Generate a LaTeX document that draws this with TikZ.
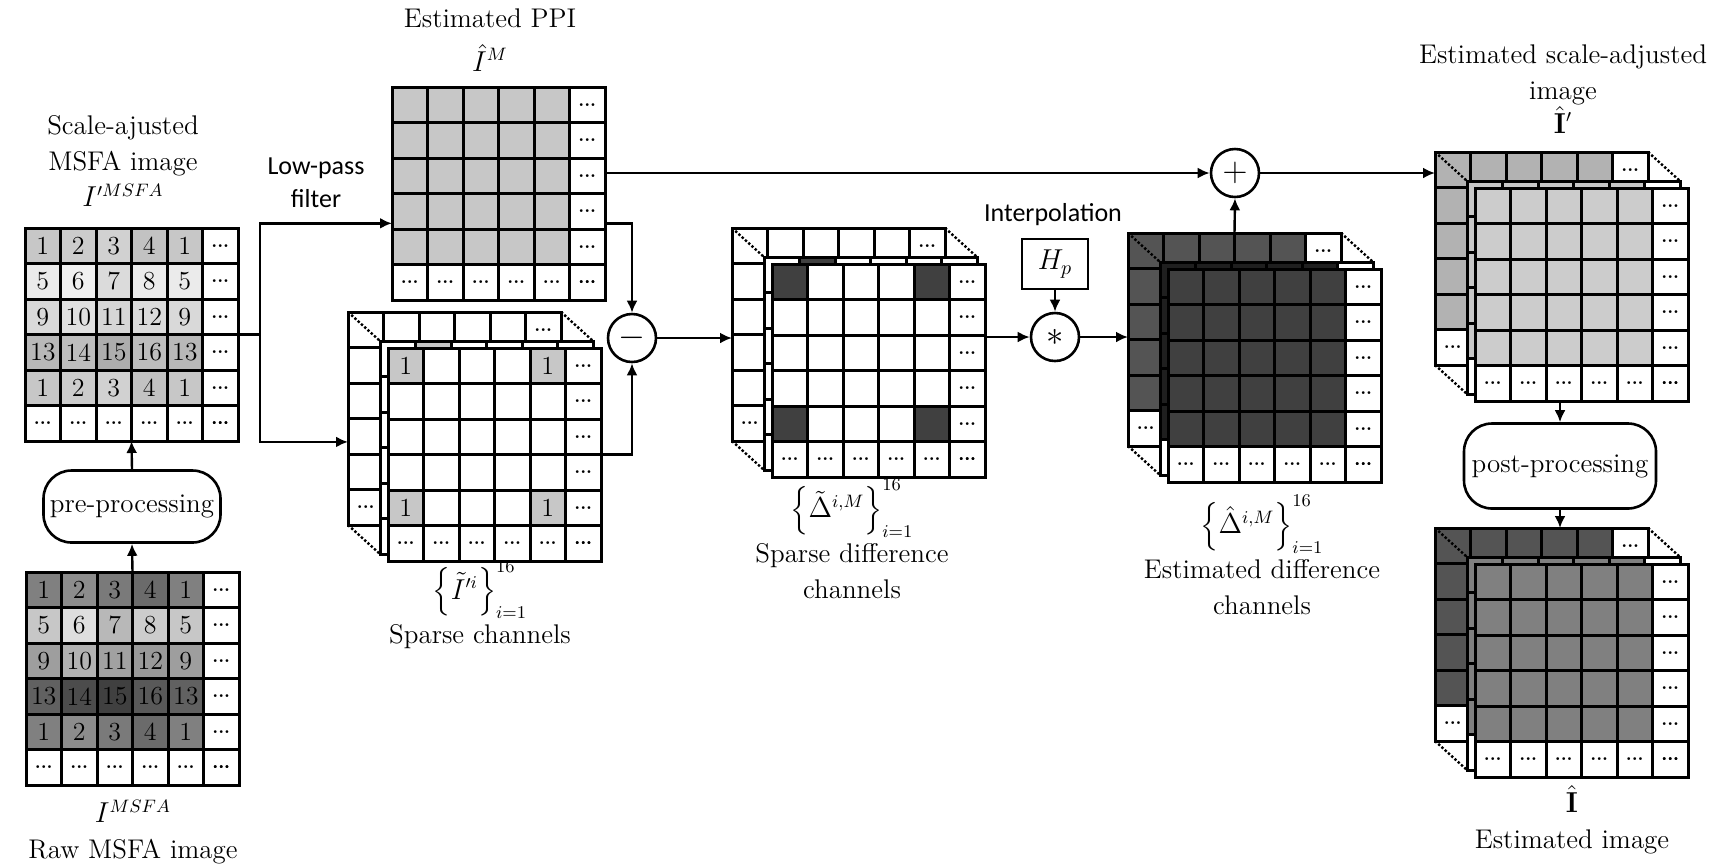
\documentclass[tikz,border=0pt]{standalone}
\usepackage{amsmath,amssymb}
\usepackage[no-math]{fontspec}
\newfontfamily\calibri{Carlito}
\usepackage{tikz}
\usetikzlibrary{arrows.meta,positioning,calc}

\newcommand{\cw}{35.5}
\newcommand{\dotstxt}{{\fontsize{9}{9}\selectfont\textbf{...}}}
% one cell: row #1, column #2, fill #3
\newcommand{\shadecell}[3]{%
  \draw[cell,fill=#3] (#2*\cw,#1*\cw) rectangle ++(\cw,\cw);}
% the same with a text #4
\newcommand{\markcell}[4]{%
  \shadecell{#1}{#2}{#3}
  \node[numtxt] at (#2*\cw+0.5*\cw,#1*\cw+0.5*\cw) {#4};}
\newcommand{\dotcell}[2]{%
  \node[numtxt] at (#2*\cw+0.5*\cw,#1*\cw+0.5*\cw) {\dotstxt};}
\newcommand{\alldots}{\foreach \k in {0,...,5}{\dotcell{\k}{5}\dotcell{5}{\k}}}
% 6x6 grid, last row and column left white
\newcommand{\cellgrid}[3]{%
  \begin{scope}[shift={#1}]
    \foreach \row in {0,...,4}
      \foreach \col in {0,...,4}{\shadecell{\row}{\col}{#2}}
    \foreach \k in {0,...,5}{
      \shadecell{\k}{5}{white}
      \shadecell{5}{\k}{white}}
    #3
  \end{scope}}
% mosaic with band numbers 1..16, #2 = shades of the bands
\newcommand{\msfagrid}[2]{%
  \cellgrid{#1}{white}{%
    \foreach \row in {0,...,4}
      \foreach \col in {0,...,4}{
        \pgfmathtruncatemacro\band{4*mod(\row,4)+mod(\col,4)+1}
        \pgfmathtruncatemacro\shade{{#2}[\band-1]}
        \markcell{\row}{\col}{black!\shade}{\band}}
    \alldots}}
% three stacked channels: back, middle, front
\newcommand{\cellstack}[7]{%
  \begin{scope}[shift={#2}]
    \cellgrid{(0,0)}{#3}{\dotcell{0}{5}\dotcell{5}{0}}
    \draw[dotlink] (0,0) -- (32,29) (6*\cw,0) -- ++(32,29) (0,6*\cw) -- ++(32,29);
    \cellgrid{(32,29)}{#4}{#6}
    \cellgrid{(40,36)}{#5}{#7\alldots}
    \node[gridframe] (#1b) at (0,0) {};
    \node[gridframe] (#1) at (40,36) {};
  \end{scope}}

\begin{document}
\begin{tikzpicture}[x=0.5pt,y=-0.5pt,
  cell/.style={draw,line width=1.5pt},
  numtxt/.style={font=\fontsize{13}{13}\selectfont,inner sep=0},
  gridframe/.style={inner sep=0,outer sep=0,minimum width=106.5pt,minimum height=106.5pt,anchor=north west},
  dotlink/.style={densely dotted,line width=1.2pt},
  lbl/.style={align=center,font=\fontsize{13.5}{18}\selectfont,inner sep=1pt},
  sans/.style={align=center,font=\calibri\fontsize{13}{16.5}\selectfont,inner sep=1pt},
  op/.style={draw,circle,line width=1.3pt,minimum size=24pt,inner sep=0,font=\fontsize{16}{16}\selectfont},
  procbox/.style={draw,line width=1.3pt,rounded corners=14pt,inner xsep=1pt,font=\fontsize{13.5}{14}\selectfont},
  arr/.style={-{Latex[length=6pt,width=5.5pt]},line width=1.2pt},
  wire/.style={line width=1.2pt}]
\useasboundingbox (0,0) rectangle (1713,864);

% input mosaics
\msfagrid{(25,228)}{22,20,18,24,8,6,14,8,15,12,16,14,28,26,32,26}
\node[gridframe] (msfa) at (25,228) {};
\msfagrid{(26,572)}{50,45,52,58,22,13,28,20,38,30,37,40,62,70,75,65}
\node[gridframe] (raw) at (26,572) {};
\node[procbox,minimum width=88.5pt,minimum height=36pt] (pre) at ($(msfa.south)!0.5!(raw.north)$) {pre-processing};

% PPI and channel stacks
\cellgrid{(392,87)}{black!22}{\alldots}
\node[gridframe] (ppi) at (392,87) {};
\cellstack{sp}{(348,312)}{white}{white}{white}{\shadecell{0}{1}{black!22}}{%
  \markcell{0}{0}{black!22}{1}\markcell{0}{4}{black!22}{1}%
  \markcell{4}{0}{black!22}{1}\markcell{4}{4}{black!22}{1}}
\cellstack{dif}{(732,228)}{white}{white}{white}{\shadecell{0}{1}{black!75}}{%
  \shadecell{0}{0}{black!75}\shadecell{0}{4}{black!75}%
  \shadecell{4}{0}{black!75}\shadecell{4}{4}{black!75}}
\cellstack{est}{(1128,233)}{black!67}{black!88}{black!75}{}{}
\cellstack{rt}{(1435,152)}{black!30}{black!22}{black!20}{}{}
\cellstack{rb}{(1435,528)}{black!67}{black!50}{black!50}{}{}

% operators
\node[op] (minus) at (632,338) {$-$};
\node[op] (star) at (1055,337) {$*$};
\node[op] (plus) at (1235,173) {$+$};
\node[draw,line width=1.3pt,minimum width=33pt,minimum height=25pt,font=\fontsize{14}{14}\selectfont] (hp) at (1055,264) {$H_p$};
\node[procbox,minimum width=96pt,minimum height=42.5pt] (post) at (1560,466) {post-processing};

% labels
\node[lbl] (msfalbl) at (123,161) {Scale-ajusted\\MSFA image\\[0pt]$I'^{MSFA}$};
\node[lbl] (rawlbl) at (133,832) {$I^{MSFA}$\\Raw MSFA image};
\node[sans] (lowpass) at (316,183) {Low-pass\\filter};
\node[lbl] (ppilbl) at (490,40) {Estimated PPI\\[4pt]$\hat{I}^{M}$};
\node[lbl] (splbl) at (480,605) {$\Big\{\tilde{I}'^{i}\Big\}_{i=1}^{16}$\\[2pt]Sparse channels};
\node[lbl] (diflbl) at (852,539) {$\Big\{\tilde{\Delta}^{i,M}\Big\}_{i=1}^{16}$\\[2pt]Sparse difference\\channels};
\node[sans] (interp) at (1053,215) {Interpolation};
\node[lbl] (estlbl) at (1262,555) {$\Big\{\hat{\Delta}^{i,M}\Big\}_{i=1}^{16}$\\[2pt]Estimated difference\\channels};
\node[lbl] (rtlbl) at (1563,89) {Estimated scale-adjusted\\image\\[-1pt]$\hat{\mathbf{I}}'$};
\node[lbl] (rblbl) at (1572,820) {$\hat{\mathbf{I}}$\\Estimated image};

% connectors
\draw[arr] (raw.north) -- (pre.south);
\draw[arr] (pre.north) -- (msfa.south);
\draw[wire] (msfa.east) -- ++(22,0) coordinate (split);
\coordinate (ppiin) at ($(ppi.north west)!0.64!(ppi.south west)$);
\coordinate (spin) at ($(spb.north west)!0.61!(spb.south west)$);
\draw[arr] (split) |- (ppiin);
\draw[arr] (split) |- (spin);
\draw[arr] (ppi.east |- plus) -- (plus.west);
\draw[arr] (ppi.east |- ppiin) -| (minus.north);
\draw[arr] (sp.east) -| (minus.south);
\draw[arr] (minus.east) -- (difb.west |- minus);
\draw[arr] (dif.east |- star) -- (star.west);
\draw[arr] (hp.south) -- (star.north);
\draw[arr] (star.east) -- (estb.west |- star);
\draw[arr] (estb.north) -- (plus.south);
\draw[arr] (plus.east) -- (rtb.west |- plus);
\draw[arr] (rt.south -| post) -- (post.north);
\draw[arr] (post.south) -- (rbb.north -| post);
\end{tikzpicture}
\end{document}
